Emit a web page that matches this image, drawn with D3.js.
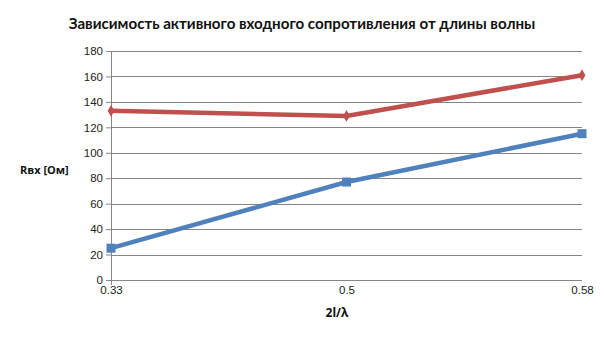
<!DOCTYPE html>
<html><head><meta charset="utf-8">
<script src="https://cdn.jsdelivr.net/npm/d3@7"></script>
<style>body{margin:0;background:#fff}svg{display:block}</style>
</head><body>
<svg id="c" width="605" height="340"></svg>
<script>
const categories = ["0.33", "0.5", "0.58"];
const redSeries = [133, 129, 161];
const blueSeries = [25, 77, 115];
const yTicks = [0, 20, 40, 60, 80, 100, 120, 140, 160, 180];

(function () {
const svg = d3.select("#c");
const pL = 111, pR = 582, pT = 51, pB = 280;
const x = d3.scalePoint().domain(categories).range([pL, pR]);
const y = d3.scaleLinear().domain([0, 180]).range([pB, pT]);
const font = "'Liberation Sans', Arial, sans-serif";

// gridlines
svg.append("g").selectAll("line").data(yTicks).join("line")
  .attr("x1", pL).attr("x2", pR)
  .attr("y1", d => Math.round(y(d)) + 0.5).attr("y2", d => Math.round(y(d)) + 0.5)
  .attr("stroke", "#868686").attr("stroke-width", 1);

// y axis
const ya = svg.append("g").attr("transform", `translate(${pL},0)`)
  .call(d3.axisLeft(y).tickValues(yTicks).tickSize(5).tickPadding(3));
ya.select(".domain").attr("stroke", "#868686").attr("d", `M0.5,${pT}V${pB + 5}`);
ya.selectAll(".tick line").attr("stroke", "#868686");
ya.selectAll("text").attr("font-family", font).attr("font-size", 11.5).attr("fill", "#222");

// x axis labels
const xa = svg.append("g").attr("transform", `translate(0,${pB})`)
  .call(d3.axisBottom(x).tickSize(0).tickPadding(6));
xa.select(".domain").remove();
xa.selectAll("text").attr("font-family", font).attr("font-size", 11.5).attr("fill", "#222");

const line = d3.line().x((d, i) => x(categories[i])).y(d => y(d));

// blue series
svg.append("path").datum(blueSeries).attr("d", line)
  .attr("fill", "none").attr("stroke", "#4F81BD").attr("stroke-width", 4.5);
svg.append("g").selectAll("rect").data(blueSeries).join("rect")
  .attr("x", (d, i) => x(categories[i]) - 4.5).attr("y", d => y(d) - 4.5)
  .attr("width", 9).attr("height", 9).attr("fill", "#4F81BD");

// red series
svg.append("path").datum(redSeries).attr("d", line)
  .attr("fill", "none").attr("stroke", "#C0504D").attr("stroke-width", 4.5);
svg.append("g").selectAll("path").data(redSeries).join("path")
  .attr("transform", (d, i) => `translate(${x(categories[i])},${y(d)})`)
  .attr("d", d3.symbol().type(d3.symbolDiamond).size(40))
  .attr("fill", "#C0504D");

// title, fitted to the reference width
const title = svg.append("text").attr("x", 302).attr("y", 29).attr("text-anchor", "middle")
  .attr("font-family", "Lato, 'Open Sans', sans-serif").attr("font-weight", "bold").attr("font-size", 15)
  .attr("fill", "#111").text("Зависимость активного входного сопротивления от длины волны");
const tw = title.node().getComputedTextLength();
if (tw > 0) title.attr("font-size", 15 * 467 / tw);

// axis titles
svg.append("text").attr("x", 20).attr("y", 174)
  .attr("font-family", "'Open Sans', sans-serif").attr("font-weight", "bold").attr("font-size", 11)
  .attr("fill", "#111").text("Rвх [Ом]");
svg.append("text").attr("x", 337).attr("y", 317).attr("text-anchor", "middle")
  .attr("font-family", "'Open Sans', sans-serif").attr("font-weight", "bold").attr("font-size", 12)
  .attr("fill", "#111").text("2l/λ");
})();
</script>
</body></html>
